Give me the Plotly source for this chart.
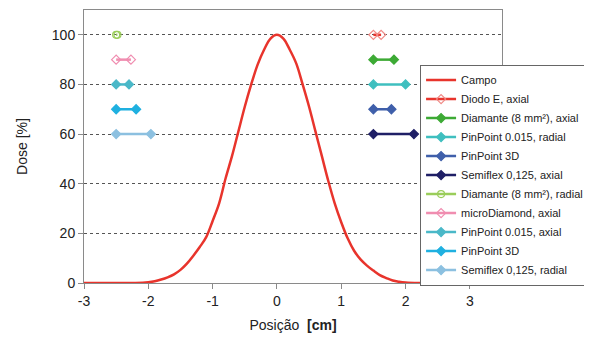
import plotly.graph_objects as go

# Field profile (Campo)
pos = [-3.0, -2.5, -2.2, -2.0, -1.9, -1.8, -1.7, -1.6, -1.5, -1.4, -1.3, -1.2, -1.1, -1.0,
       -0.9, -0.8, -0.7, -0.6, -0.5, -0.4, -0.3, -0.2, -0.1, 0.0,
       0.1, 0.2, 0.3, 0.4, 0.5, 0.6, 0.7, 0.8, 0.9, 1.0, 1.1, 1.2, 1.3, 1.4,
       1.5, 1.6, 1.7, 1.8, 1.9, 2.0, 2.2, 2.5, 3.0, 3.5]
dose = [0, 0, 0, 0.3, 0.7, 1.4, 2.3, 3.5, 5.3, 7.8, 11, 14.5, 18.5, 25,
        32, 42, 51, 61, 71, 80, 88, 94, 98.5, 100,
        98.5, 94, 88.5, 80, 71, 61, 51, 41, 32, 24.5, 18, 13, 9.5, 7,
        5, 3.2, 2, 1, 0.5, 0.2, 0, 0, 0, 0]

# Detector segments: (name, x_start, x_end, y)
names = ["Diodo E, axial", "Diamante (8 mm²), axial", "PinPoint 0.015, radial",
         "PinPoint 3D", "Semiflex 0,125, axial", "Diamante (8 mm²), radial",
         "microDiamond, axial", "PinPoint 0.015, axial", "PinPoint 3D",
         "Semiflex 0,125, radial"]
x_start = [1.50, 1.50, 1.50, 1.50, 1.50, -2.50, -2.50, -2.50, -2.50, -2.50]
x_end = [1.62, 1.82, 2.00, 1.78, 2.13, -2.48, -2.27, -2.30, -2.19, -1.96]
y_level = [100, 90, 80, 70, 60, 100, 90, 80, 70, 60]

x_ticks = [-3, -2, -1, 0, 1, 2, 3]
x_tick_labels = ["-3", "-2", "-1", "0", "1", "2", "3"]
y_ticks = [0, 20, 40, 60, 80, 100]

colors = ["#E8342C", "#3DAA35", "#3FBFBF", "#3F5FAA", "#1F1F66",
          "#9ACD5A", "#F08DB0", "#4AB8C8", "#1FB0E0", "#8CC0E0"]
marker_colors = ["#F08A86", "#3DAA35", "#3FBFBF", "#3F5FAA", "#1F1F66",
                 "#9ACD5A", "#F08DB0", "#4AB8C8", "#1FB0E0", "#8CC0E0"]
symbols = ["diamond-open", "diamond", "diamond", "diamond", "diamond",
           "circle-open", "diamond-open", "diamond", "diamond", "diamond"]

fig = go.Figure()
fig.add_trace(go.Scatter(x=pos, y=dose, mode="lines", name="Campo",
                         line=dict(color="#E8342C", width=2.5, shape="spline")))
for i, n in enumerate(names):
    fig.add_trace(go.Scatter(
        x=[x_start[i], x_end[i]], y=[y_level[i], y_level[i]],
        mode="lines+markers", name=n,
        line=dict(color=colors[i], width=2.5),
        marker=dict(symbol=symbols[i], size=7, color=marker_colors[i],
                    line=dict(width=1.2, color=marker_colors[i]))))

# page body has an 8px default margin, so the figure is 8px smaller than the window
fig.update_layout(
    width=584, height=332,
    margin=dict(l=76, r=90, t=2, b=57, autoexpand=False),
    paper_bgcolor="white", plot_bgcolor="white",
    font=dict(family="Liberation Sans, Arial, sans-serif", color="#222"),
    legend=dict(x=0.804, y=0.80, xanchor="left", yanchor="top",
                bgcolor="white", bordercolor="#666", borderwidth=1,
                font=dict(size=11, color="#222"), tracegroupgap=0,
                itemwidth=30),
    showlegend=True,
)
fig.update_xaxes(range=[-3, 3.5], tickmode="array", tickvals=x_ticks, ticktext=x_tick_labels,
                 showgrid=False, zeroline=False, automargin=False,
                 showline=True, linecolor="#8a8a8a", linewidth=1, mirror=True,
                 ticks="outside", ticklen=5, tickcolor="#8a8a8a",
                 tickfont=dict(size=14, color="#222"),
                 title=dict(text="Posição  <b>[cm]</b>", font=dict(size=14, color="#222"),
                            standoff=12))
fig.update_yaxes(range=[0, 110], tickmode="array", tickvals=y_ticks,
                 showgrid=True, gridcolor="#555", griddash="dot", gridwidth=1,
                 zeroline=False, automargin=False,
                 showline=True, linecolor="#8a8a8a", linewidth=1, mirror=True,
                 ticks="outside", ticklen=5, tickcolor="#8a8a8a",
                 tickfont=dict(size=14, color="#222"),
                 title=dict(text="Dose [%]", font=dict(size=14, color="#222"),
                            standoff=20))

fig.write_html("out.html")
